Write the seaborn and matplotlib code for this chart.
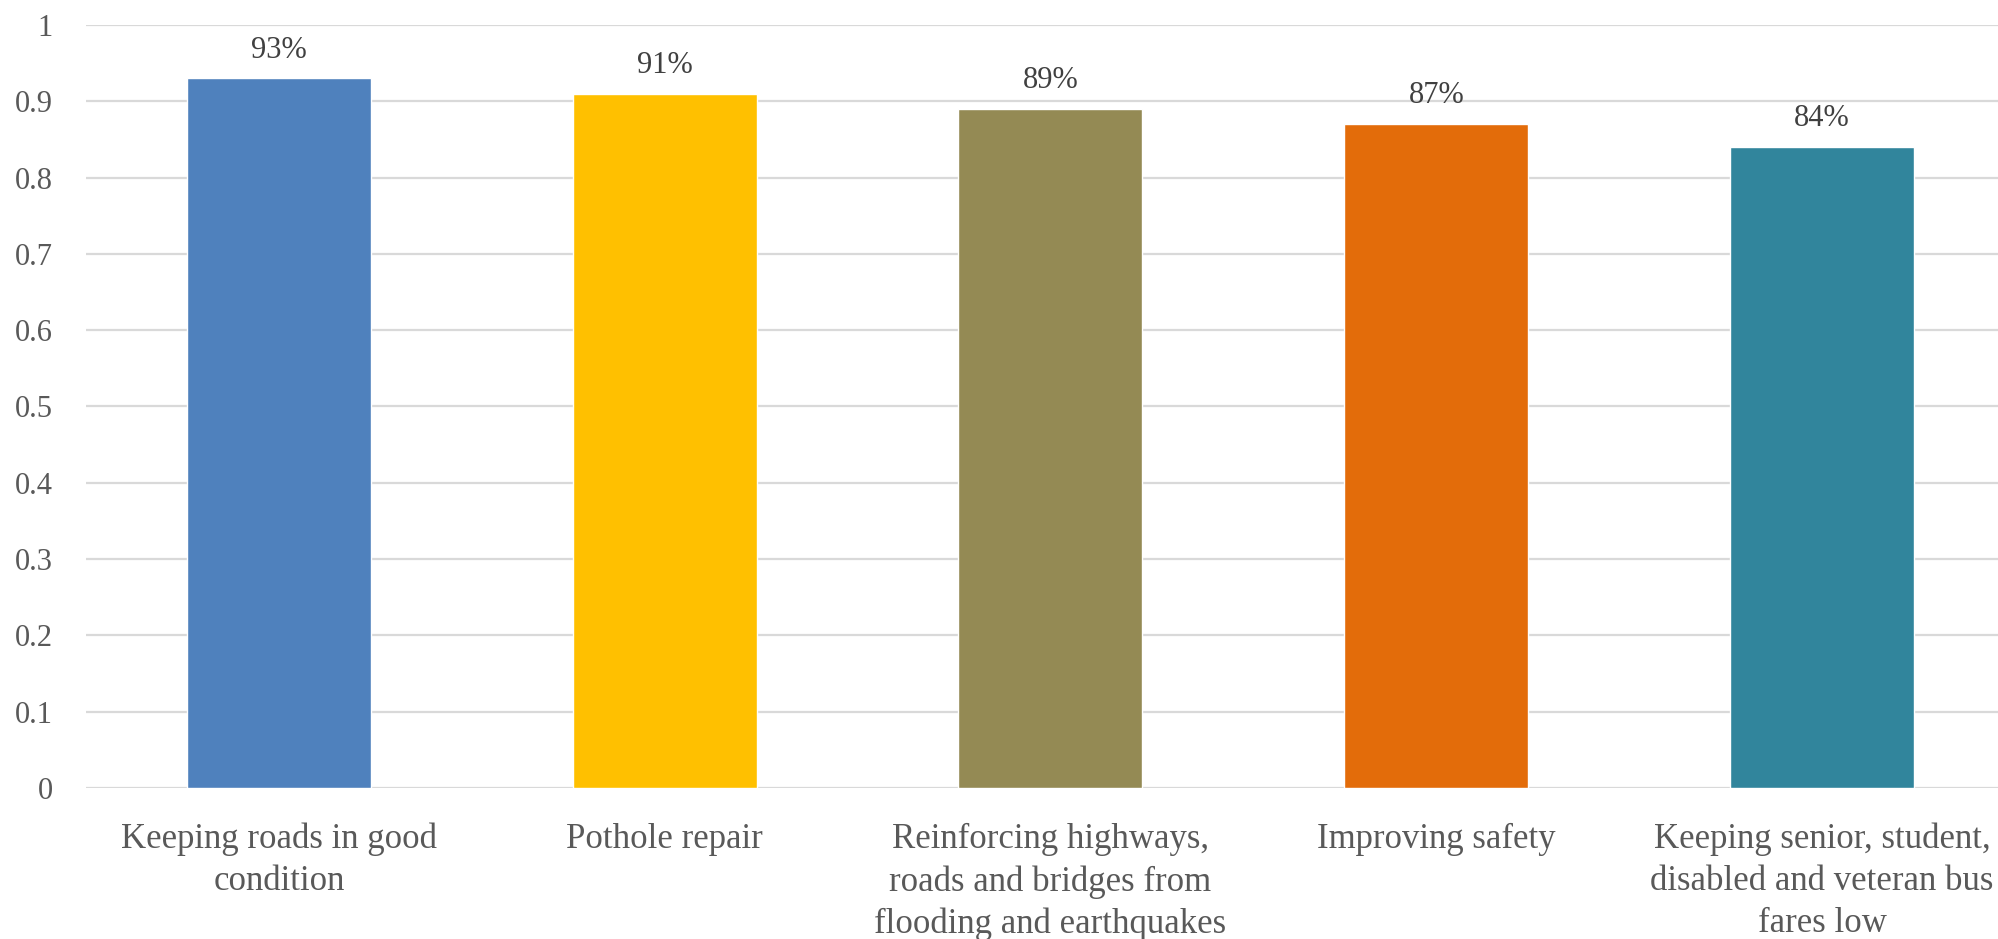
import matplotlib
matplotlib.use("Agg")
import matplotlib.pyplot as plt
import seaborn as sns
import pandas as pd

categories = [
    "Keeping roads in good\ncondition",
    "Pothole repair",
    "Reinforcing highways,\nroads and bridges from\nflooding and earthquakes",
    "Improving safety",
    "Keeping senior, student,\ndisabled and veteran bus\nfares low",
]
values = [0.93, 0.91, 0.89, 0.87, 0.84]
bar_colors = ["#4F81BD", "#FFC000", "#948A54", "#E36C0A", "#31859C"]
y_ticks = [0, 0.1, 0.2, 0.3, 0.4, 0.5, 0.6, 0.7, 0.8, 0.9, 1]

df = pd.DataFrame({"category": categories, "value": values})

sns.set_theme(style="white")
plt.rcParams["font.family"] = ["Liberation Serif", "DejaVu Serif"]
text_color = "#595959"

fig = plt.figure(figsize=(19.98, 9.39), dpi=100)
ax = fig.add_axes([0.043, 0.1608, 0.957, 0.8126])

sns.barplot(data=df, x="category", y="value", hue="category",
            palette=bar_colors, width=0.477, legend=False, ax=ax,
            saturation=1)

ax.set_ylim(0, 1)
ax.set_xlim(-0.5, 4.456)
ax.set_yticks(y_ticks)
ax.set_yticklabels([f"{t:g}" for t in y_ticks])
ax.yaxis.grid(True, color="#d9d9d9", linewidth=1.6)
ax.set_axisbelow(True)
for s in ax.spines.values():
    s.set_visible(False)

# tick labels
ax.tick_params(axis="y", length=0, pad=24, labelsize=22, labelcolor=text_color)
ax.tick_params(axis="x", length=0, pad=25, labelsize=25, labelcolor=text_color)
for lbl in ax.get_xticklabels():
    lbl.set_linespacing(1.36)
ax.set_xlabel("")
ax.set_ylabel("")

# percentage labels above bars
for cont in ax.containers:
    ax.bar_label(cont, labels=[f"{v:.0%}" for v in cont.datavalues],
                 padding=10, fontsize=22, color="#404040")

plt.savefig("out.png", dpi=100)
plt.close()
